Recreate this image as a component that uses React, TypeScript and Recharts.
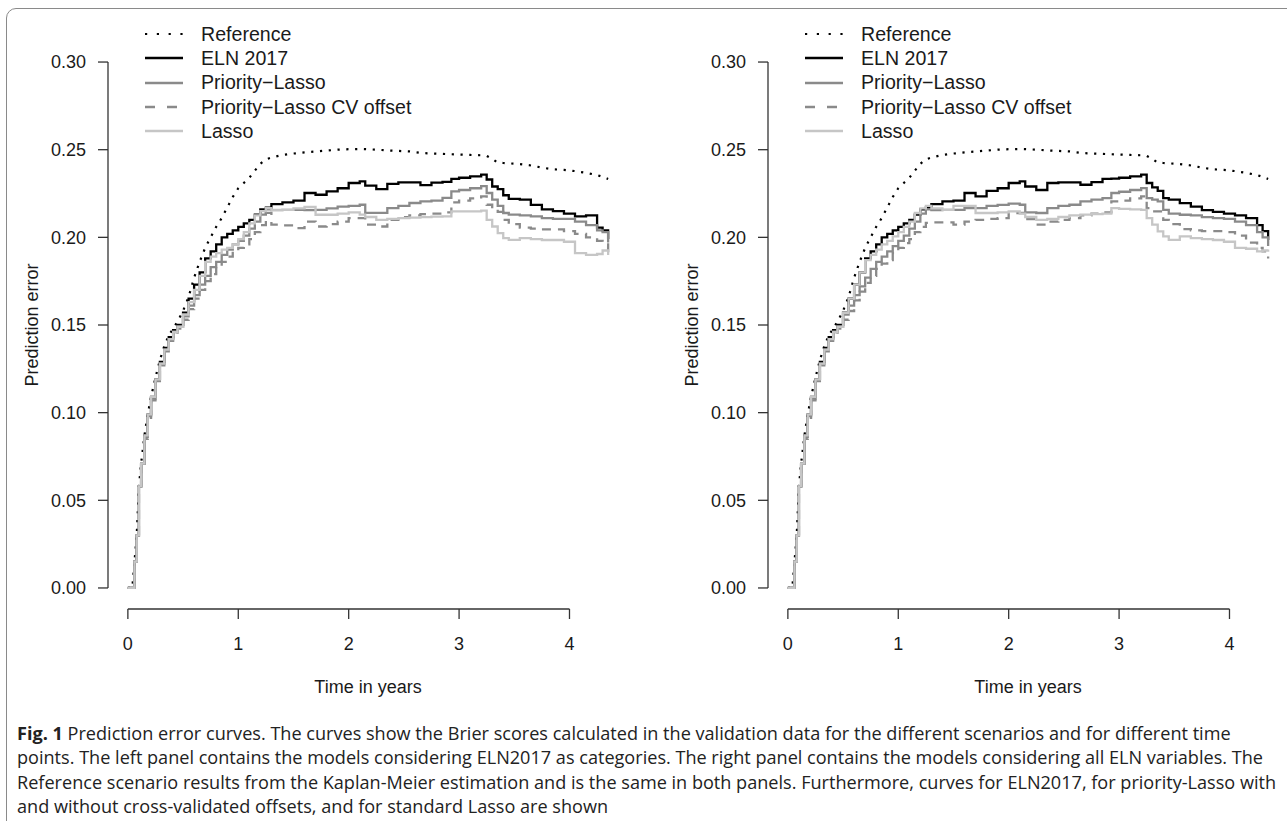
import React from 'react';
import { LineChart, Line, XAxis, YAxis, ReferenceLine } from 'recharts';

// time grid (years) shared by every curve
const years = [
  0, 0.04, 0.06, 0.08, 0.1, 0.12, 0.15, 0.18, 0.21, 0.25, 0.29, 0.33, 0.37, 0.41, 0.45,
  0.5, 0.55, 0.6, 0.65, 0.7, 0.75, 0.8, 0.85, 0.9, 0.95, 1.0, 1.05, 1.1, 1.15, 1.2,
  1.25, 1.3, 1.4, 1.5, 1.6, 1.7, 1.8, 1.9, 2.0, 2.1, 2.15, 2.25, 2.35, 2.45, 2.55,
  2.65, 2.75, 2.85, 2.93, 3.0, 3.1, 3.2, 3.25, 3.3, 3.35, 3.4, 3.45, 3.55, 3.65, 3.75,
  3.85, 3.95, 4.05, 4.15, 4.25, 4.3, 4.35,
];

// Kaplan-Meier reference, same in both panels
const reference = [
  0, 0, 0.015, 0.03, 0.058, 0.071, 0.087, 0.099, 0.109, 0.12, 0.13, 0.138, 0.144, 0.148, 0.152,
  0.158, 0.166, 0.177, 0.186, 0.194, 0.2, 0.206, 0.211, 0.217, 0.223, 0.228, 0.231, 0.234, 0.238, 0.242,
  0.2445, 0.2455, 0.247, 0.2478, 0.2485, 0.249, 0.2495, 0.25, 0.2503, 0.2504, 0.2503, 0.25, 0.2496, 0.2493, 0.249,
  0.2482, 0.2478, 0.2476, 0.2474, 0.2472, 0.247, 0.2468, 0.2465, 0.2448, 0.2426, 0.2424, 0.2422, 0.2418, 0.241, 0.2398,
  0.2388, 0.2385, 0.2378, 0.2368, 0.2355, 0.2345, 0.2333,
];

// left panel: ELN2017 as categories
const elnLeft = [
  0, 0, 0.015, 0.03, 0.058, 0.071, 0.087, 0.099, 0.109, 0.119, 0.129, 0.137, 0.143, 0.147, 0.15,
  0.157, 0.165, 0.173, 0.18, 0.188, 0.192, 0.196, 0.2, 0.202, 0.204, 0.206, 0.208, 0.21, 0.213, 0.216,
  0.217, 0.219, 0.22, 0.221, 0.2253, 0.2243, 0.2262, 0.228, 0.231, 0.2319, 0.2295, 0.2275, 0.2305, 0.2313, 0.2313,
  0.2298, 0.2312, 0.2316, 0.2333, 0.234, 0.2348, 0.2358, 0.233, 0.229, 0.2275, 0.224, 0.222, 0.2215, 0.2185, 0.216,
  0.215, 0.2135, 0.212, 0.2125, 0.2055, 0.204, 0.199,
];
const priorityLeft = [
  0, 0, 0.015, 0.03, 0.058, 0.071, 0.086, 0.098, 0.108, 0.118, 0.128, 0.136, 0.142, 0.146, 0.149,
  0.155, 0.161, 0.167, 0.173, 0.178, 0.183, 0.186, 0.19, 0.193, 0.196, 0.198, 0.201, 0.205, 0.209, 0.213,
  0.216, 0.2155, 0.2157, 0.2157, 0.2155, 0.2157, 0.2165, 0.2175, 0.218, 0.2186, 0.214, 0.214, 0.2167, 0.218, 0.2196,
  0.2205, 0.221, 0.2225, 0.2262, 0.227, 0.228, 0.2292, 0.2253, 0.2215, 0.218, 0.2139, 0.213, 0.2125, 0.212, 0.211,
  0.2105, 0.2105, 0.209, 0.207, 0.204, 0.203, 0.197,
];
const cvOffsetLeft = [
  0, 0, 0.015, 0.03, 0.058, 0.07, 0.085, 0.097, 0.107, 0.117, 0.127, 0.135, 0.141, 0.145, 0.148,
  0.153, 0.159, 0.165, 0.17, 0.175, 0.179, 0.183, 0.186, 0.189, 0.192, 0.194, 0.196, 0.199, 0.203, 0.207,
  0.214, 0.2072, 0.2068, 0.2053, 0.209, 0.2062, 0.2075, 0.209, 0.211, 0.211, 0.2072, 0.2062, 0.21, 0.2115, 0.2125,
  0.2132, 0.2135, 0.2142, 0.2199, 0.221, 0.2222, 0.2234, 0.2186, 0.2165, 0.2145, 0.21, 0.2075, 0.2055, 0.205, 0.2045,
  0.2045, 0.2035, 0.202, 0.2, 0.198, 0.196, 0.191,
];
const lassoLeft = [
  0, 0, 0.015, 0.03, 0.058, 0.071, 0.087, 0.099, 0.109, 0.119, 0.128, 0.136, 0.142, 0.146, 0.149,
  0.156, 0.163, 0.17, 0.178, 0.186, 0.189, 0.191, 0.193, 0.194, 0.196, 0.199, 0.203, 0.208, 0.2125, 0.215,
  0.2167, 0.2157, 0.2157, 0.2165, 0.2173, 0.2129, 0.2129, 0.2135, 0.2142, 0.213, 0.2116, 0.21, 0.2105, 0.211, 0.2112,
  0.2115, 0.2118, 0.212, 0.2148, 0.2148, 0.2148, 0.2152, 0.21, 0.2062, 0.2024, 0.1995, 0.1986, 0.1996, 0.199, 0.1985,
  0.1985, 0.1975, 0.191, 0.19, 0.1905, 0.1925, 0.19,
];

// right panel: all ELN variables
const elnRight = [
  0, 0, 0.015, 0.03, 0.058, 0.071, 0.087, 0.099, 0.109, 0.119, 0.129, 0.137, 0.143, 0.147, 0.15,
  0.157, 0.165, 0.173, 0.18, 0.188, 0.192, 0.196, 0.2, 0.202, 0.204, 0.206, 0.208, 0.21, 0.213, 0.216,
  0.217, 0.219, 0.2205, 0.221, 0.2253, 0.2234, 0.2265, 0.228, 0.231, 0.2319, 0.229, 0.227, 0.231, 0.2313, 0.2313,
  0.23, 0.2315, 0.2333, 0.2335, 0.234, 0.2348, 0.2358, 0.231, 0.2285, 0.2265, 0.2224, 0.2215, 0.2195, 0.2175, 0.2155,
  0.2145, 0.2135, 0.2125, 0.211, 0.207, 0.2035, 0.1985,
];
const priorityRight = [
  0, 0, 0.015, 0.03, 0.058, 0.071, 0.086, 0.098, 0.108, 0.118, 0.128, 0.136, 0.142, 0.146, 0.149,
  0.156, 0.161, 0.167, 0.172, 0.177, 0.182, 0.186, 0.189, 0.192, 0.195, 0.198, 0.201, 0.205, 0.209, 0.2135,
  0.216, 0.2155, 0.2157, 0.2157, 0.2167, 0.2167, 0.218, 0.2185, 0.2192, 0.2186, 0.2142, 0.2139, 0.2167, 0.218, 0.2186,
  0.2205, 0.2215, 0.2224, 0.2253, 0.226, 0.227, 0.2281, 0.2224, 0.2215, 0.2205, 0.2157, 0.2135, 0.2129, 0.2125, 0.2115,
  0.211, 0.2105, 0.209, 0.207, 0.203, 0.2, 0.195,
];
const cvOffsetRight = [
  0, 0, 0.015, 0.03, 0.058, 0.07, 0.085, 0.097, 0.107, 0.117, 0.127, 0.135, 0.141, 0.145, 0.148,
  0.153, 0.158, 0.164, 0.169, 0.174, 0.178, 0.182, 0.185, 0.187, 0.191, 0.194, 0.1967, 0.199, 0.203, 0.206,
  0.2082, 0.2085, 0.2085, 0.2072, 0.209, 0.21, 0.2105, 0.211, 0.2139, 0.2139, 0.2104, 0.2072, 0.209, 0.21, 0.211,
  0.2125, 0.2135, 0.2142, 0.2205, 0.221, 0.2222, 0.2234, 0.2167, 0.2148, 0.2148, 0.21, 0.2075, 0.2047, 0.204, 0.2035,
  0.2035, 0.203, 0.201, 0.197, 0.194, 0.192, 0.188,
];
const lassoRight = [
  0, 0, 0.015, 0.03, 0.058, 0.071, 0.087, 0.099, 0.109, 0.119, 0.128, 0.136, 0.142, 0.146, 0.149,
  0.157, 0.165, 0.173, 0.18, 0.187, 0.19, 0.193, 0.196, 0.198, 0.2005, 0.203, 0.206, 0.209, 0.2139, 0.2165,
  0.218, 0.2165, 0.2157, 0.218, 0.218, 0.2139, 0.2139, 0.2142, 0.2148, 0.2135, 0.2116, 0.21, 0.2105, 0.2116, 0.2125,
  0.213, 0.2133, 0.2135, 0.2167, 0.2162, 0.216, 0.2157, 0.211, 0.2072, 0.2034, 0.2005, 0.1986, 0.2005, 0.1995, 0.199,
  0.1985, 0.1975, 0.194, 0.1935, 0.192, 0.1925, 0.193,
];

const xTicks = [0, 1, 2, 3, 4];
const yTicks = [0, 0.05, 0.1, 0.15, 0.2, 0.25, 0.3];
const seriesNames = ['Reference', 'ELN 2017', 'Priority\u2212Lasso', 'Priority\u2212Lasso CV offset', 'Lasso'];

const FONT = '"Liberation Sans", Arial, Helvetica, sans-serif';
const TEXT = '#1a1a1a';
const AXIS = '#333';

const seriesStyle = [
  { key: 'reference', type: 'linear', color: '#000', width: 2.2, dash: '2.2 6.6', legendDash: '2.2 9.6' },
  { key: 'eln', type: 'stepAfter', color: '#000', width: 2.3, dash: undefined, legendDash: undefined },
  { key: 'priority', type: 'stepAfter', color: '#8a8a8a', width: 2.3, dash: undefined, legendDash: undefined },
  { key: 'cvOffset', type: 'stepAfter', color: '#8a8a8a', width: 2.3, dash: '9 7', legendDash: '10 12' },
  { key: 'lasso', type: 'stepAfter', color: '#c6c6c6', width: 2.3, dash: undefined, legendDash: undefined },
];

const buildRows = (eln: number[], priority: number[], cvOffset: number[], lasso: number[]) =>
  years.map((t, i) => ({
    t,
    reference: reference[i],
    eln: eln[i],
    priority: priority[i],
    cvOffset: cvOffset[i],
    lasso: lasso[i],
  }));

const leftRows = buildRows(elnLeft, priorityLeft, cvOffsetLeft, lassoLeft);
const rightRows = buildRows(elnRight, priorityRight, cvOffsetRight, lassoRight);

function Panel({ left, data }: { left: number; data: any[] }) {
  return (
    <div style={{ position: 'absolute', left, top: 0, width: 660, height: 700 }}>
      <LineChart
        width={660}
        height={700}
        data={data}
        margin={{ top: 41, right: 32, bottom: 61, left: 48 }}
        style={{ fontFamily: FONT }}
      >
        <XAxis
          type="number"
          dataKey="t"
          domain={[-0.18, 4.53]}
          allowDataOverflow
          ticks={xTicks}
          interval={0}
          height={30}
          axisLine={false}
          tickLine={{ stroke: AXIS, strokeWidth: 1.3 }}
          tickSize={10}
          tickMargin={18}
          tick={{ fill: TEXT, fontSize: 18, fontFamily: FONT }}
          label={{ value: 'Time in years', position: 'bottom', offset: 41, fill: TEXT, fontSize: 18, fontFamily: FONT }}
        />
        <YAxis
          type="number"
          domain={[-0.012, 0.312]}
          allowDataOverflow
          ticks={yTicks}
          interval={0}
          width={60}
          axisLine={false}
          tickLine={{ stroke: AXIS, strokeWidth: 1.3 }}
          tickSize={10}
          tickMargin={12}
          tickFormatter={(v: number) => v.toFixed(2)}
          tick={{ fill: TEXT, fontSize: 18, fontFamily: FONT }}
          label={{
            value: 'Prediction error',
            angle: -90,
            position: 'left',
            offset: 16.5,
            fill: TEXT,
            fontSize: 18,
            fontFamily: FONT,
            style: { textAnchor: 'middle' },
          }}
        />
        <ReferenceLine
          segment={[{ x: 0, y: -0.012 }, { x: 4, y: -0.012 }]}
          stroke={AXIS}
          strokeWidth={1.3}
          ifOverflow="visible"
        />
        <ReferenceLine
          segment={[{ x: -0.18, y: 0 }, { x: -0.18, y: 0.3 }]}
          stroke={AXIS}
          strokeWidth={1.3}
          ifOverflow="visible"
        />
        {seriesStyle.map((s, i) => (
          <Line
            key={s.key}
            dataKey={s.key}
            name={seriesNames[i]}
            type={s.type as any}
            stroke={s.color}
            strokeWidth={s.width}
            strokeDasharray={s.dash}
            dot={false}
            activeDot={false}
            isAnimationActive={false}
          />
        ))}
      </LineChart>
      <div style={{ position: 'absolute', left: 145, top: 21.8 }}>
        {seriesStyle.map((s, i) => (
          <div key={s.key} style={{ display: 'flex', alignItems: 'center', height: 24.3 }}>
            <svg width={38} height={8} style={{ display: 'block' }}>
              <line x1={0} y1={4} x2={38} y2={4} stroke={s.color} strokeWidth={s.width} strokeDasharray={s.legendDash} />
            </svg>
            <span style={{ marginLeft: 18, fontSize: 19.6, lineHeight: '24.3px', fontFamily: FONT, color: TEXT, whiteSpace: 'nowrap' }}>
              {seriesNames[i]}
            </span>
          </div>
        ))}
      </div>
    </div>
  );
}

const captionLines = [
  'Prediction error curves. The curves show the Brier scores calculated in the validation data for the different scenarios and for different time',
  'points. The left panel contains the models considering ELN2017 as categories. The right panel contains the models considering all ELN variables. The',
  'Reference scenario results from the Kaplan-Meier estimation and is the same in both panels. Furthermore, curves for ELN2017, for priority-Lasso with',
  'and without cross-validated offsets, and for standard Lasso are shown',
];

export default function App() {
  return (
    <div style={{ position: 'absolute', left: 0, top: 0, width: 1287, height: 821, overflow: 'hidden', background: '#fff' }}>
      <div
        style={{
          position: 'absolute',
          left: 6,
          top: 8,
          width: 1400,
          height: 900,
          border: '1.5px solid #8a8a8a',
          borderRadius: 10,
          boxSizing: 'border-box',
        }}
      />
      <Panel left={0} data={leftRows} />
      <Panel left={660} data={rightRows} />
      <div
        style={{
          position: 'absolute',
          left: 17,
          top: 720.5,
          fontFamily: '"Open Sans", "Noto Sans", sans-serif',
          fontSize: 18.1,
          lineHeight: '24.5px',
          color: '#222',
          whiteSpace: 'nowrap',
        }}
      >
        {captionLines.map((line, i) => (
          <div key={i}>
            {i === 0 && <b>Fig. 1 </b>}
            {line}
          </div>
        ))}
      </div>
    </div>
  );
}
